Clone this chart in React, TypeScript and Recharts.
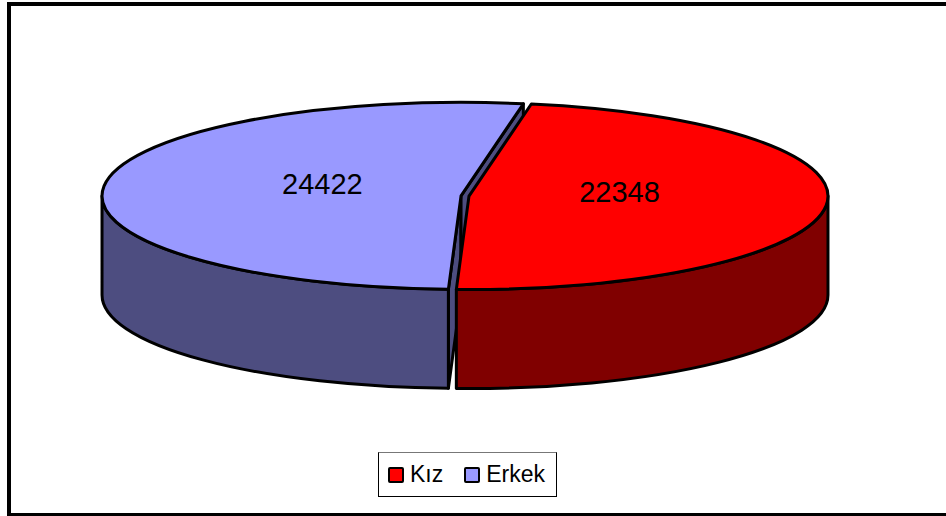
import React from 'react';
import { PieChart, Pie, Legend } from 'recharts';

const CATEGORIES = ['Kız', 'Erkek'];
const VALUES = [22348, 24422];

const TOP_COLORS = ['#FF0000', '#9999FF'];
const SIDE_COLORS = ['#800000', '#4D4D80'];

const data = CATEGORIES.map((name, i) => ({ name, value: VALUES[i] }));

// fake 3D: the pie is squashed vertically and extruded downwards
const RX = 359;
const K = 93.5 / RX;
const DEPTH = 99;
const EXPLODE = 4;
const FONT = 'Arial, "Liberation Sans", sans-serif';

const rad = (a: number) => (a * Math.PI) / 180;

function geom(props: any) {
  const { cx, cy, outerRadius: r, startAngle: s, endAngle: e } = props;
  const mid = (s + e) / 2;
  const ox = EXPLODE * Math.cos(rad(mid));
  const oy = -EXPLODE * K * Math.sin(rad(mid));
  const pt = (a: number, f = 1, dy = 0) => [
    cx + f * r * Math.cos(rad(a)) + ox,
    cy - f * r * K * Math.sin(rad(a)) + oy + dy,
  ];
  const c = [cx + ox, cy + oy];
  return { s, e, r, mid, pt, c };
}

const stroke = { stroke: '#000', strokeWidth: 3, strokeLinejoin: 'round' as const };

// radial cut faces (only the ones turned towards the viewer)
function renderFaces(props: any) {
  const { s, e, pt, c } = geom(props);
  const col = SIDE_COLORS[props.index];
  const faces: React.ReactNode[] = [];
  const edges = [
    { a: s, n: s + 90 },
    { a: e, n: e - 90 },
  ];
  edges.forEach((ed, j) => {
    if (Math.sin(rad(ed.n)) >= 0) return;
    const [px, py] = pt(ed.a);
    const d = `M ${c[0]} ${c[1]} L ${px} ${py} L ${px} ${py + DEPTH} L ${c[0]} ${c[1] + DEPTH} Z`;
    faces.push(<path key={j} d={d} fill={col} {...stroke} />);
  });
  return <g key={`face-${props.index}`}>{faces}</g>;
}

// outer curved wall, front half only
function renderWalls(props: any) {
  const { s, e, r, pt } = geom(props);
  const col = SIDE_COLORS[props.index];
  const parts: React.ReactNode[] = [];
  for (let n = -2; n <= 1; n++) {
    const hi = Math.min(s, 360 * n);
    const lo = Math.max(e, -180 + 360 * n);
    if (hi - lo <= 0.01) continue;
    const [x1, y1] = pt(hi);
    const [x2, y2] = pt(lo);
    const d =
      `M ${x1} ${y1} A ${r} ${r * K} 0 0 1 ${x2} ${y2} ` +
      `L ${x2} ${y2 + DEPTH} A ${r} ${r * K} 0 0 0 ${x1} ${y1 + DEPTH} Z`;
    parts.push(<path key={n} d={d} fill={col} {...stroke} />);
  }
  return <g key={`wall-${props.index}`}>{parts}</g>;
}

// top face plus the value
function renderTops(props: any) {
  const { s, e, r, mid, pt, c } = geom(props);
  const [x1, y1] = pt(s);
  const [x2, y2] = pt(e);
  const large = Math.abs(s - e) > 180 ? 1 : 0;
  const d = `M ${c[0]} ${c[1]} L ${x1} ${y1} A ${r} ${r * K} 0 ${large} 1 ${x2} ${y2} Z`;
  const [tx, ty] = pt(mid, 0.405, -8);
  return (
    <g key={`top-${props.index}`}>
      <path d={d} fill={TOP_COLORS[props.index]} {...stroke} />
      <text
        x={tx + 6}
        y={ty}
        textAnchor="middle"
        dominantBaseline="central"
        fontFamily={FONT}
        fontSize={29}
        fill="#000"
      >
        {props.value}
      </text>
    </g>
  );
}

function LegendBox() {
  return (
    <div
      style={{
        width: 179,
        height: 45,
        boxSizing: 'border-box',
        border: '1.5px solid #000',
        borderTopColor: '#777',
        background: '#fff',
        display: 'flex',
        alignItems: 'center',
        paddingLeft: 9,
        fontFamily: FONT,
        fontSize: 23,
        color: '#000',
      }}
    >
      {CATEGORIES.map((name, i) => (
        <span key={name} style={{ display: 'flex', alignItems: 'center', marginRight: i === 0 ? 21 : 0 }}>
          <span
            style={{
              width: 12,
              height: 12,
              background: TOP_COLORS[i],
              border: '2.5px solid #000',
              borderRadius: 2,
              marginRight: 6,
            }}
          />
          {name}
        </span>
      ))}
    </div>
  );
}

export default function App() {
  const pieProps = {
    data,
    dataKey: 'value',
    nameKey: 'name',
    cx: 465,
    cy: 196,
    outerRadius: RX,
    startAngle: 80,
    endAngle: -280,
    fill: 'none',
    stroke: 'none',
    labelLine: false,
    isAnimationActive: false,
  };

  return (
    <div
      style={{
        position: 'absolute',
        left: 0,
        top: 0,
        width: 946,
        height: 516,
        overflow: 'hidden',
        background: '#fff',
      }}
    >
      <div
        style={{
          position: 'absolute',
          left: 7,
          top: 2,
          width: 960,
          height: 515,
          boxSizing: 'border-box',
          border: '4px solid #000',
        }}
      />
      <div style={{ position: 'absolute', left: 0, top: 0 }}>
        <PieChart width={946} height={516} margin={{ top: 0, right: 0, bottom: 0, left: 0 }}>
          <Pie {...pieProps} label={renderFaces} />
          <Pie {...pieProps} label={renderWalls} />
          <Pie {...pieProps} label={renderTops} />
          <Legend
            content={() => <LegendBox />}
            wrapperStyle={{ position: 'absolute', left: 378, top: 452, width: 179, height: 45, bottom: 'auto' }}
          />
        </PieChart>
      </div>
    </div>
  );
}
